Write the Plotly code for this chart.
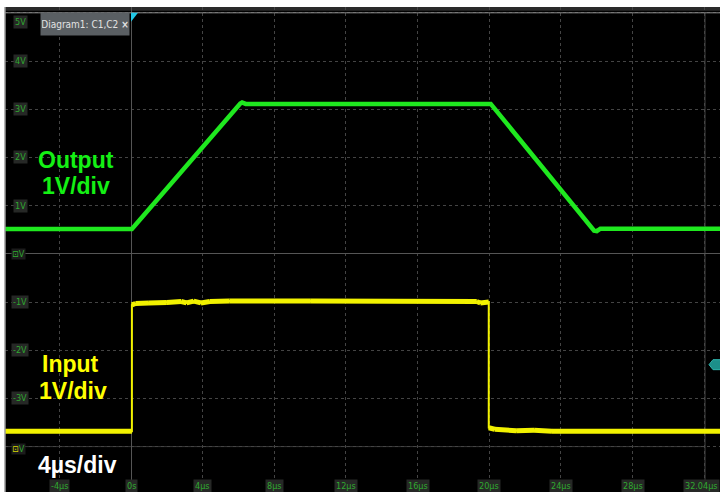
import plotly.graph_objects as go

# ---------------- data ----------------
# time in microseconds
out_t = [-7.05, 0.05, 6.10, 6.20, 6.40, 20.08, 25.85, 26.00, 26.20, 32.90]
out_v = [0.515, 0.515, 3.12, 3.14, 3.11, 3.11, 0.48, 0.47, 0.52, 0.52]   # Output, V (1 V/div, ground at 0 div)

in_t = [-7.05, 0.05, 0.05, 0.25, 1.0, 2.0, 2.8, 3.1, 3.5, 3.9, 4.4, 5.5, 10.0, 19.3, 19.5,
        19.97, 19.97, 20.3, 21.5, 22.5, 23.5, 32.90]
in_v = [0.32, 0.32, 2.94, 2.97, 2.98, 2.99, 3.01, 2.98, 3.02, 2.98, 3.01, 3.02, 3.02, 3.01, 2.98,
        3.00, 0.39, 0.36, 0.33, 0.34, 0.32, 0.32]                          # Input, V (1 V/div)
in_offset_div = -4.0   # input channel ground position on screen (divisions)

x_ticks = [-4, 0, 4, 8, 12, 16, 20, 24, 28, 32.04]
x_tick_text = ["-4µs", "0s", "4µs", "8µs", "12µs", "16µs", "20µs", "24µs", "28µs", "32.04µs"]
y_ticks = [5, 4, 3, 2, 1, -1, -2, -3, -5]
y_tick_text = ["5V", "4V", "3V", "2V", "1V", "-1V", "-2V", "-3V", "-5V"]

# ---------------- geometry ----------------
W, H = 720, 492
L, T = 5, 7
PX_PER_US = 17.915
X0_PX = 131.0
PX_PER_DIV = 48.2
Y0_PX = 253.8
x_range = [(L - X0_PX) / PX_PER_US, (W - X0_PX) / PX_PER_US]
y_range = [(Y0_PX - H) / PX_PER_DIV, (Y0_PX - T) / PX_PER_DIV]

GREEN = "#1fe81f"
YELLOW = "#f2f200"
LABEL_GREEN = "#30a830"
LABEL_BG = "#262826"

fig = go.Figure()

# input: thin full trace (edges), thick flat segments
in_screen = [v + in_offset_div for v in in_v]
fig.add_trace(go.Scatter(x=in_t, y=in_screen, mode="lines",
                         line=dict(color=YELLOW, width=2), hoverinfo="skip", showlegend=False))
seg_x, seg_y = [], []
for i in range(len(in_t) - 1):
    if in_t[i + 1] != in_t[i]:
        seg_x += [in_t[i], in_t[i + 1], None]
        seg_y += [in_screen[i], in_screen[i + 1], None]
fig.add_trace(go.Scatter(x=seg_x, y=seg_y, mode="lines",
                         line=dict(color=YELLOW, width=5), hoverinfo="skip", showlegend=False))

# output
fig.add_trace(go.Scatter(x=out_t, y=out_v, mode="lines",
                         line=dict(color=GREEN, width=4.5), hoverinfo="skip", showlegend=False))

# ---------------- decorations ----------------
shapes = []
# top dark band and border line
shapes.append(dict(type="rect", xref="paper", yref="y", x0=0, x1=1, y0=5.04, y1=y_range[1],
                   fillcolor="#2a2a2a", line_width=0, layer="below"))
shapes.append(dict(type="line", xref="paper", yref="y", x0=0, x1=1, y0=5.0, y1=5.0,
                   line=dict(color="#8c8c8c", width=1)))
# left border line
shapes.append(dict(type="line", xref="paper", yref="paper", x0=0, x1=0, y0=0, y1=1,
                   line=dict(color="#9a9a9a", width=1.5)))
# solid faint line at input ground division
shapes.append(dict(type="line", xref="x", yref="y", x0=x_range[0], x1=32.04, y0=-4, y1=-4,
                   line=dict(color="#383838", width=1), layer="below"))
# right grid edge
shapes.append(dict(type="line", xref="x", yref="y", x0=32.04, x1=32.04, y0=y_range[0], y1=5.0,
                   line=dict(color="#444444", width=1), layer="below"))
# trigger position marker (cyan triangle)
tri = "M {x0} {y0} L {x1} {y0} L {x0} {y2} Z".format(
    x0=0.0, x1=7 / PX_PER_US, y0=5.0, y2=5.0 - 9 / PX_PER_DIV)
shapes.append(dict(type="path", xref="x", yref="y", path=tri, fillcolor="#22c8e6", line_width=0))
# trigger level marker at right (teal)
yc = -2.30
hx = 5.0 / PX_PER_US
hy = 5.0 / PX_PER_DIV
xr = x_range[1]
hexp = "M {a} {b} L {c} {d} L {e} {d} L {e} {f} L {c} {f} Z".format(
    a=xr - 2.2 * hx, b=yc, c=xr - 1.4 * hx, d=yc + hy, e=xr + 0.5, f=yc - hy)
shapes.append(dict(type="path", xref="x", yref="y", path=hexp, fillcolor="#1c8f8a",
                   line=dict(color="#2fb5ad", width=1)))

annotations = []
LBL_FONT = dict(family="Liberation Sans Narrow, DejaVu Sans Condensed, sans-serif", size=9,
                color=LABEL_GREEN)
x_lab = (20 - X0_PX) / PX_PER_US
for v, txt in zip(y_ticks, y_tick_text):
    shift = 0
    if v == 5:
        shift = -9
    elif v == -5:
        shift = 8
    annotations.append(dict(x=x_lab, y=v, xref="x", yref="y", text=txt, showarrow=False,
                            font=LBL_FONT, bgcolor=LABEL_BG, yshift=shift, borderpad=1))
y_lab = (Y0_PX - 486) / PX_PER_DIV
for t, txt in zip(x_ticks, x_tick_text):
    last = (t == x_ticks[-1])
    annotations.append(dict(x=t, y=y_lab, xref="x", yref="y", text=txt, showarrow=False,
                            font=LBL_FONT, bgcolor=LABEL_BG, borderpad=1,
                            xshift=-4 if last else 0))
# channel ground markers
annotations.append(dict(x=x_lab - 0.1, y=0, xref="x", yref="y",
                        text='<span style="color:#2fb02f">⊡</span>V', showarrow=False,
                        font=LBL_FONT, bgcolor="#1c1c1c", borderpad=0))
annotations.append(dict(x=x_lab - 0.1, y=in_offset_div, xref="x", yref="y", yshift=-2,
                        text='<span style="color:#d8d800">⊡</span>V', showarrow=False,
                        font=LBL_FONT, bgcolor="#1c1c1c", borderpad=0))
# diagram tab
annotations.append(dict(x=(85 - X0_PX) / PX_PER_US, y=(Y0_PX - 24) / PX_PER_DIV, xref="x", yref="y",
                        text="Diagram1: C1,C2 <b>×</b>", showarrow=False,
                        font=dict(family="Liberation Sans Narrow, DejaVu Sans Condensed, sans-serif",
                                  size=10, color="#e2e2e2"),
                        bgcolor="#5a5f63", width=86, height=20, borderpad=1))
# big labels
BIG = dict(family="Liberation Sans, Arial, sans-serif", size=23)
def big(text, xp, yp, color):
    annotations.append(dict(x=(xp - X0_PX) / PX_PER_US, y=(Y0_PX - yp) / PX_PER_DIV,
                            xref="x", yref="y", text="<b>%s</b>" % text, showarrow=False,
                            font=dict(BIG, color=color)))
big("Output", 76, 160, "#14f014")
big("1V/div", 76, 186, "#14f014")
big("Input", 70, 364, "#ffff00")
big("1V/div", 73, 391, "#ffff00")
big("4µs/div", 77, 465, "#ffffff")

fig.update_layout(
    width=W, height=H,
    margin=dict(l=L, r=0, t=T, b=0),
    paper_bgcolor="white",
    plot_bgcolor="black",
    showlegend=False,
    shapes=shapes,
    annotations=annotations,
    xaxis=dict(range=x_range, tick0=0, dtick=4, showticklabels=False, ticks="",
               showgrid=True, gridcolor="#444444", griddash="dot", gridwidth=1,
               zeroline=True, zerolinecolor="#555555", zerolinewidth=1, fixedrange=True),
    yaxis=dict(range=y_range, tick0=0, dtick=1, showticklabels=False, ticks="",
               showgrid=True, gridcolor="#444444", griddash="dot", gridwidth=1,
               zeroline=True, zerolinecolor="#555555", zerolinewidth=1, fixedrange=True),
)

fig.write_html("out.html", config={"displayModeBar": False},
               post_script="document.body.style.margin='0px';document.body.style.overflow='hidden';")
